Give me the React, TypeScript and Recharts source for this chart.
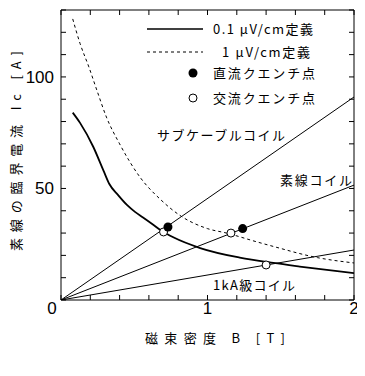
import { ComposedChart, Line, Scatter, XAxis, YAxis } from 'recharts';

// B [T] and Ic [A]
const bLow = [0.08, 0.13, 0.22, 0.29, 0.33, 0.39, 0.45, 0.505, 0.56, 0.62, 0.68, 0.77, 0.95, 1.22, 1.45, 1.63, 2.0];
const icLow = [84, 79.4, 68.7, 58, 52, 47, 42.6, 39.5, 37, 34.2, 31.3, 28, 23.3, 19, 16.6, 15, 12];

const bHigh = [0.08, 0.13, 0.19, 0.245, 0.31, 0.4, 0.54, 0.68, 0.81, 1.0, 1.13, 1.34, 1.45, 1.75, 2.0];
const icHigh = [126, 115, 104.5, 94, 82, 70, 55, 45, 38, 32, 30, 26, 24, 19, 16.6];

// load lines of the coils (from origin)
const bLoad = [0, 2];
const icSubcable = [0, 91];
const icStrand = [0, 51.5];
const ic1kA = [0, 22.4];

// quench points
const bDc = [0.73, 1.24];
const icDc = [32.7, 32];
const bAc = [0.7, 1.16, 1.4];
const icAc = [30.5, 30, 15.7];

const xTicks = [0, 0.2, 0.4, 0.6, 0.8, 1, 1.2, 1.4, 1.6, 1.8, 2];
const xLabels = ['0', '1', '2'];
const yTicks = [0, 10, 20, 30, 40, 50, 60, 70, 80, 90, 100, 110, 120, 130];
const yLabels = ['50', '100'];

const toRows = (xs: number[], ys: number[]) => xs.map((b, i) => ({ b, ic: ys[i] }));

const lowData = toRows(bLow, icLow);
const highData = toRows(bHigh, icHigh);
const subcableData = toRows(bLoad, icSubcable);
const strandData = toRows(bLoad, icStrand);
const kaData = toRows(bLoad, ic1kA);
const dcData = toRows(bDc, icDc);
const acData = toRows(bAc, icAc);

const NUM = '"Liberation Sans", Arial, sans-serif';
const JP = '"Noto Sans CJK JP", sans-serif';

// ticks point inward, labels only on the major values
const BottomTick = (p: any) => {
  const v = String(p.payload.value);
  return (
    <g>
      <line x1={p.x} x2={p.x} y1={p.y} y2={p.y - 5} stroke="#000" />
      {xLabels.includes(v) && (
        <text x={v === '0' ? p.x - 9 : p.x} y={p.y + 14} textAnchor="middle" fontFamily={NUM} fontSize={17}>{v}</text>
      )}
    </g>
  );
};

const TopTick = (p: any) => (
  <line x1={p.x} x2={p.x} y1={p.y} y2={p.y + 5} stroke="#000" />
);

const LeftTick = (p: any) => {
  const v = String(p.payload.value);
  return (
    <g>
      <line x1={p.x} x2={p.x + 5} y1={p.y} y2={p.y} stroke="#000" />
      {yLabels.includes(v) && (
        <text x={p.x - 7} y={p.y + 6} textAnchor="end" fontFamily={NUM} fontSize={17}>{v}</text>
      )}
    </g>
  );
};

const RightTick = (p: any) => (
  <line x1={p.x} x2={p.x - 5} y1={p.y} y2={p.y} stroke="#000" />
);

const Filled = (p: any) => <circle cx={p.cx} cy={p.cy} r={4.5} fill="#000" />;
const Open = (p: any) => <circle cx={p.cx} cy={p.cy} r={4} fill="#fff" stroke="#000" strokeWidth={1} />;

export default function App() {
  return (
    <div style={{ position: 'relative', width: 357, height: 360 }}>
      <ComposedChart width={357} height={360} margin={{ top: 1, right: 10, bottom: 38, left: 13 }}>
        <XAxis dataKey="b" type="number" domain={[0, 2]} ticks={xTicks} interval={0} allowDataOverflow
          tickLine={false} tickSize={0} tickMargin={0} height={30} tick={<BottomTick />} stroke="#000" />
        <XAxis xAxisId="top" orientation="top" dataKey="b" type="number" domain={[0, 2]} ticks={xTicks} interval={0} allowDataOverflow
          tickLine={false} tickSize={0} tickMargin={0} height={1} tick={<TopTick />} stroke="#000" />
        <YAxis dataKey="ic" type="number" domain={[0, 130]} ticks={yTicks} interval={0} allowDataOverflow
          tickLine={false} tickSize={0} tickMargin={0} width={40} tick={<LeftTick />} stroke="#000" />
        <YAxis yAxisId="right" orientation="right" dataKey="ic" type="number" domain={[0, 130]} ticks={yTicks} interval={0} allowDataOverflow
          tickLine={false} tickSize={0} tickMargin={0} width={1} tick={<RightTick />} stroke="#000" />
        {/* invisible series so the frame axes get drawn */}
        <Line xAxisId="top" yAxisId="right" data={kaData} dataKey="ic" stroke="none" dot={false} isAnimationActive={false} />
        <Line data={subcableData} dataKey="ic" type="linear" stroke="#000" strokeWidth={1} dot={false} isAnimationActive={false} />
        <Line data={strandData} dataKey="ic" type="linear" stroke="#000" strokeWidth={1} dot={false} isAnimationActive={false} />
        <Line data={kaData} dataKey="ic" type="linear" stroke="#000" strokeWidth={1} dot={false} isAnimationActive={false} />
        <Line data={highData} dataKey="ic" type="monotone" stroke="#000" strokeWidth={1} strokeDasharray="3 3" dot={false} isAnimationActive={false} />
        <Line data={lowData} dataKey="ic" type="monotone" stroke="#000" strokeWidth={1.8} dot={false} isAnimationActive={false} />
        <Scatter data={acData} dataKey="ic" shape={<Open />} isAnimationActive={false} />
        <Scatter data={dcData} dataKey="ic" shape={<Filled />} isAnimationActive={false} />
      </ComposedChart>
      <svg width={365} height={376} style={{ position: 'absolute', left: -8, top: -8, pointerEvents: 'none' }}>
        {/* legend */}
        <line x1={147} x2={203} y1={29} y2={29} stroke="#000" strokeWidth={1.5} />
        <line x1={147} x2={203} y1={52} y2={52} stroke="#000" strokeWidth={1} strokeDasharray="3 3" />
        <circle cx={193} cy={73} r={4.5} fill="#000" />
        <circle cx={193} cy={98} r={4} fill="#fff" stroke="#000" />
        <g fontFamily={JP} fontSize={13} fill="#000">
          <text x={213} y={34} textLength={100} lengthAdjust="spacing">0.1 μV/cm定義</text>
          <text x={222} y={57} textLength={88} lengthAdjust="spacing">1 μV/cm定義</text>
          <text x={213} y={78} textLength={102} lengthAdjust="spacing">直流クエンチ点</text>
          <text x={213} y={103} textLength={102} lengthAdjust="spacing">交流クエンチ点</text>
          <text x={157} y={140} textLength={128} lengthAdjust="spacing">サブケーブルコイル</text>
          <text x={280} y={185} textLength={72} lengthAdjust="spacing">素線コイル</text>
          <text x={213} y={290} textLength={82} lengthAdjust="spacing">1kA級コイル</text>
          <text x={145} y={343} textLength={140} lengthAdjust="spacing">磁束密度 B [T]</text>
          <text x={0} y={0} transform="translate(21,151) rotate(-90)" textAnchor="middle" textLength={200} lengthAdjust="spacing">素線の臨界電流 Ic [A]</text>
        </g>
      </svg>
    </div>
  );
}
